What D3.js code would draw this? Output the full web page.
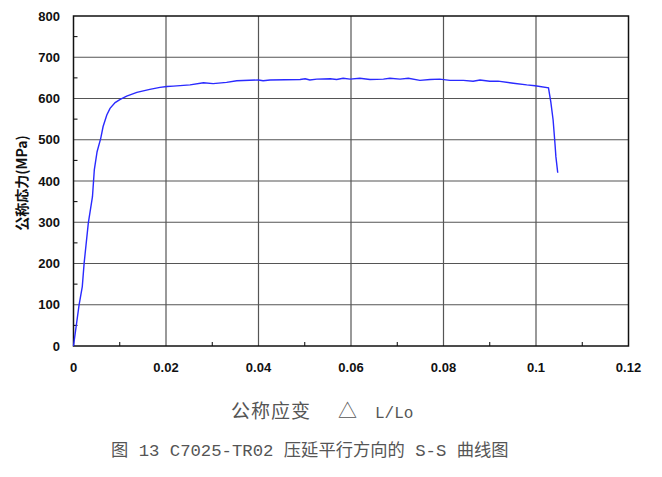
<!DOCTYPE html>
<html><head><meta charset="utf-8">
<script src="https://cdn.jsdelivr.net/npm/d3@7"></script>
<style>body{margin:0;background:#fff}</style>
</head><body><svg id="c" width="662" height="477"></svg>
<script>
const strain = [0,0.0012,0.0019,0.0023,0.0032,0.0041,0.0045,0.0051,0.0059,0.0064,0.0072,0.0079,0.0090,0.0101,0.0115,0.0137,0.0165,0.0187,0.0202,0.0216,0.0252,0.0281,0.0302,0.0331,0.0353,0.0400,0.0410,0.0425,0.0490,0.0501,0.0511,0.0526,0.0555,0.0569,0.0583,0.0598,0.0619,0.0641,0.0670,0.0684,0.0706,0.0724,0.0749,0.0771,0.0792,0.0814,0.0843,0.0864,0.0879,0.0900,0.0918,0.0951,0.0980,0.0998,0.1027,0.1032,0.1037,0.1041,0.1043,0.1047];
const stress = [0,99,144,201,298,362,427,471,504,532,560,576,590,598,606,615,622,627,629,630,633,638,636,639,643,645,643,645,646,648,645,647,648,646,649,647,649,646,647,649,647,649,644,646,647,644,644,642,645,642,642,637,633,631,626,592,548,491,459,420];
const xTicks = [0,0.02,0.04,0.06,0.08,0.1,0.12];
const xTickLabels = ["0","0.02","0.04","0.06","0.08","0.1","0.12"];
const xMinor = [0.01,0.03,0.05,0.07,0.09,0.11];
const yTicks = [0,100,200,300,400,500,600,700,800];
const yMinor = [50,150,250,350,450,550,650,750];
const yTitle = "公称応力(MPa)";
const xTitleParts = ["公称应变","△","L/Lo"];
const caption = "图 13 C7025-TR02 压延平行方向的 S-S 曲线图";

const svg = d3.select("#c");
const L=73.5,R=628.5,T=16,B=346;
const x = d3.scaleLinear().domain([0,0.12]).range([L,R]);
const y = d3.scaleLinear().domain([0,800]).range([B,T]);

// grid
svg.append("g").selectAll("line").data(yTicks.slice(1,-1)).join("line")
  .attr("x1",L).attr("x2",R).attr("y1",d=>y(d)).attr("y2",d=>y(d))
  .attr("stroke","#555").attr("stroke-width",1.2);
svg.append("g").selectAll("line").data(xTicks.slice(1,-1)).join("line")
  .attr("y1",T).attr("y2",B).attr("x1",d=>x(d)).attr("x2",d=>x(d))
  .attr("stroke","#555").attr("stroke-width",1.2);
// minor ticks
svg.append("g").selectAll("line").data(yMinor).join("line")
  .attr("x1",L).attr("x2",L+4).attr("y1",d=>y(d)).attr("y2",d=>y(d))
  .attr("stroke","#000").attr("stroke-width",1);
svg.append("g").selectAll("line").data(xMinor).join("line")
  .attr("y1",B).attr("y2",B-4).attr("x1",d=>x(d)).attr("x2",d=>x(d))
  .attr("stroke","#000").attr("stroke-width",1);
// frame
svg.append("rect").attr("x",L).attr("y",T).attr("width",R-L).attr("height",B-T)
  .attr("fill","none").attr("stroke","#111").attr("stroke-width",1.5);

// curve
const line = d3.line().x((d,i)=>x(strain[i])).y(d=>y(d));
svg.append("path").datum(stress).attr("d",line)
  .attr("fill","none").attr("stroke","#2a2aff").attr("stroke-width",1.4);

// tick labels
const lf = "'Liberation Sans', Arial, sans-serif";
svg.append("g").selectAll("text").data(yTicks).join("text")
  .attr("x",60).attr("y",d=>y(d)+4.5).attr("text-anchor","end")
  .attr("font-family",lf).attr("font-size",13).attr("font-weight","bold").attr("fill","#111")
  .text(d=>d);
svg.append("g").selectAll("text").data(xTicks).join("text")
  .attr("x",d=>x(d)).attr("y",372).attr("text-anchor","middle")
  .attr("font-family",lf).attr("font-size",13).attr("font-weight","bold").attr("fill","#111")
  .text((d,i)=>xTickLabels[i]);

// y title
svg.append("text").attr("transform","translate(27,183) rotate(-90)")
  .attr("text-anchor","middle").attr("font-family","'Noto Sans CJK JP', sans-serif")
  .attr("font-size",14).attr("font-weight","bold").attr("fill","#111").text(yTitle);

// x title
const sf = "'Liberation Mono', 'Noto Sans CJK SC', monospace";
const xt = svg.append("text").attr("y",418).attr("font-family",sf).attr("font-size",19).attr("fill","#555");
xt.append("tspan").attr("x",231).attr("letter-spacing",1).text(xTitleParts[0]);
xt.append("tspan").attr("x",338).text(xTitleParts[1]);
xt.append("tspan").attr("x",375).attr("font-size",16).text(xTitleParts[2]);

svg.append("text").attr("x",111).attr("y",456).attr("font-family",sf)
  .attr("font-size",17.3).attr("fill","#555").text(caption);
</script></body></html>
